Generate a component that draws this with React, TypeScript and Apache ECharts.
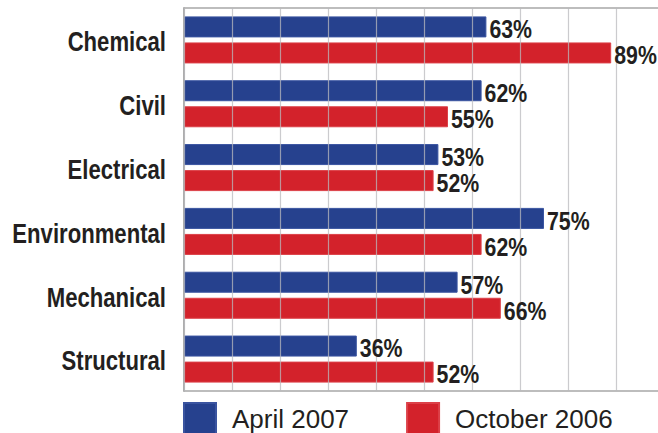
import React, { useEffect, useRef } from "react";
import * as echarts from "echarts";

const categories = ["Chemical", "Civil", "Electrical", "Environmental", "Mechanical", "Structural"];
const april2007 = [63, 62, 53, 75, 57, 36];
const october2006 = [89, 55, 52, 62, 66, 52];
const seriesNames = ["April 2007", "October 2006"];

const VALUE_FONT = "bold 26px 'Liberation Sans', Arial, sans-serif";
const CAT_FONT = "bold 27px 'Liberation Sans', Arial, sans-serif";
const TEXT_COLOR = "#231f20";
const BAR_W = 21;
const SQUEEZE = 0.82;

export default function App() {
  const ref = useRef<HTMLDivElement>(null);
  useEffect(() => {
    document.body.style.margin = "0";
    const chart = echarts.init(ref.current!, null, { renderer: "svg" });

    const valueLabelSeries = (name: string, values: number[], side: number) => ({
      name: name + " labels",
      type: "custom",
      z: 5,
      silent: true,
      data: values.map((v, i) => [v, i]),
      encode: { x: 0, y: 1 },
      renderItem: (params: any, api: any) => {
        const v = api.value(0);
        const i = api.value(1);
        const pt = api.coord([v, i]);
        const gap = 5;
        return {
          type: "text",
          x: pt[0] + 3,
          y: pt[1] + side * (BAR_W + gap) / 2 + 2,
          scaleX: SQUEEZE,
          style: {
            text: v + "%",
            font: VALUE_FONT,
            fill: TEXT_COLOR,
            align: "left",
            verticalAlign: "middle",
          },
        };
      },
    });

    chart.setOption({
      animation: false,
      backgroundColor: "#ffffff",
      grid: {
        left: 184,
        top: 8,
        width: 480,
        height: 383,
        show: true,
        outerBoundsMode: "none",
        containLabel: false,
        borderColor: "#a8a8a8",
        borderWidth: 1.5,
        backgroundColor: "transparent",
      },
      legend: {
        left: 183,
        top: 402,
        padding: 0,
        itemWidth: 32,
        itemHeight: 31,
        itemGap: 57,
        icon: "rect",
        data: seriesNames,
        textStyle: {
          fontFamily: "'Liberation Sans', Arial, sans-serif",
          fontSize: 26,
          color: TEXT_COLOR,
          padding: [0, 0, 0, 11],
        },
      },
      xAxis: {
        type: "value",
        min: 0,
        max: 100,
        interval: 10,
        z: 3,
        axisLine: { show: false },
        axisTick: { show: false },
        axisLabel: { show: false },
        splitLine: { show: true, lineStyle: { color: "rgba(185,185,190,0.75)", width: 1.2 } },
      },
      yAxis: {
        type: "category",
        data: categories,
        inverse: true,
        axisLine: { show: true, lineStyle: { color: "#a8a8a8", width: 1.5 } },
        axisTick: { show: false },
        axisLabel: { show: false },
      },
      series: [
        {
          name: seriesNames[0],
          type: "bar",
          data: april2007,
          barWidth: BAR_W,
          barGap: "24%",
          itemStyle: { color: "#26418e", borderColor: "#3a54a0", borderWidth: 1 },
        },
        {
          name: seriesNames[1],
          type: "bar",
          data: october2006,
          barWidth: BAR_W,
          barGap: "24%",
          itemStyle: { color: "#d3222b", borderColor: "#dc4048", borderWidth: 1 },
        },
        valueLabelSeries(seriesNames[0], april2007, -1),
        valueLabelSeries(seriesNames[1], october2006, 1),
        {
          name: "category labels",
          type: "custom",
          z: 5,
          silent: true,
          data: categories.map((c, i) => [0, i]),
          encode: { x: 0, y: 1 },
          renderItem: (params: any, api: any) => {
            const i = api.value(1);
            const pt = api.coord([0, i]);
            return {
              type: "text",
              x: pt[0] - 18,
              y: pt[1] + 2,
              scaleX: SQUEEZE,
              style: {
                text: categories[i],
                font: CAT_FONT,
                fill: TEXT_COLOR,
                align: "right",
                verticalAlign: "middle",
              },
            };
          },
        },
      ],
    });
    return () => chart.dispose();
  }, []);
  return <div ref={ref} style={{ width: 658, height: 433 }} />;
}
